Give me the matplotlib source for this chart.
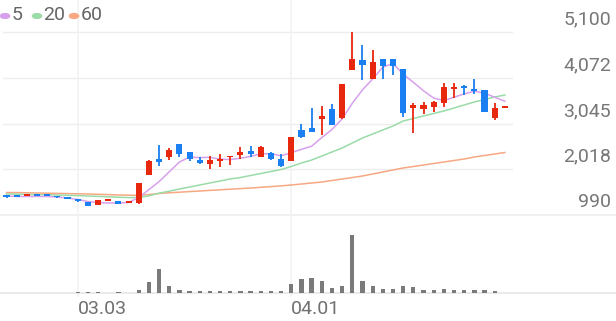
import numpy as np
import matplotlib
matplotlib.use("Agg")
import matplotlib.pyplot as plt
from matplotlib import transforms

# daily candles (prices)
opens = [1440, 1400, 1420, 1440, 1430, 1400, 1365, 1330, 1275, 1215,
         1304, 1311, 1260, 1253, 1888, 2241, 2286, 2585, 2398, 2225,
         2135, 2203, 2286, 2344, 2427, 2299, 2389, 2241, 2210, 2899,
         2951, 3146, 3371, 3162, 4247, 4471, 4045, 4494, 4494, 4269,
         3386, 3371, 3422, 3499, 3820, 3858, 3813, 3797, 3162, 3390]
highs = [1450, 1405, 1440, 1445, 1435, 1405, 1370, 1345, 1280, 1330,
         1345, 1315, 1300, 1710, 2215, 2562, 2502, 2590, 2405, 2293,
         2315, 2360, 2320, 2511, 2540, 2530, 2395, 2360, 2750, 3034,
         3386, 3438, 3476, 3935, 5100, 4808, 4696, 4500, 4500, 4275,
         3499, 3535, 3540, 3948, 3948, 3910, 4045, 3800, 3499, 3400]
lows = [1375, 1385, 1415, 1420, 1410, 1380, 1340, 1290, 1195, 1210,
        1300, 1240, 1255, 1245, 1880, 2091, 2225, 2286, 2203, 2145,
        2016, 2075, 2113, 2241, 2299, 2295, 2235, 2061, 2200, 2713,
        2848, 2787, 3005, 3155, 4240, 4022, 4040, 4045, 4134, 3191,
        2825, 3252, 3310, 3422, 3625, 3685, 3701, 3305, 3124, 3390]
closes = [1385, 1390, 1435, 1425, 1415, 1385, 1345, 1310, 1200, 1327,
          1343, 1244, 1298, 1702, 2210, 2187, 2450, 2360, 2248, 2151,
          2225, 2241, 2315, 2398, 2360, 2524, 2241, 2091, 2742, 2735,
          2861, 3214, 3011, 3926, 4494, 4359, 4433, 4343, 4343, 3281,
          3461, 3461, 3535, 3858, 3858, 3836, 3775, 3310, 3400, 3400]

# moving averages as drawn
ma5 = [1417, 1406, 1406, 1406, 1406, 1394, 1372, 1338, 1293, 1271,
       1260, 1260, 1271, 1380, 1560, 1740, 1960, 2180, 2290, 2280,
       2285, 2245, 2235, 2265, 2305, 2365, 2365, 2320, 2390, 2465,
       2535, 2730, 2910, 3150, 3500, 3800, 4045, 4310, 4395, 4150,
       3970, 3780, 3615, 3560, 3635, 3710, 3770, 3725, 3635, 3545]
ma20 = [1462, 1457, 1453, 1448, 1444, 1439, 1432, 1426, 1417, 1408,
        1399, 1390, 1381, 1383, 1420, 1480, 1525, 1574, 1619, 1664,
        1709, 1754, 1799, 1832, 1877, 1922, 1967, 2012, 2079, 2158,
        2225, 2315, 2405, 2495, 2607, 2719, 2809, 2899, 2989, 3101,
        3157, 3214, 3270, 3326, 3393, 3461, 3528, 3584, 3640, 3685]
ma60 = [1495, 1493, 1489, 1484, 1480, 1475, 1471, 1466, 1462, 1455,
        1448, 1441, 1435, 1432, 1450, 1473, 1489, 1502, 1516, 1529,
        1543, 1556, 1569, 1583, 1596, 1612, 1628, 1644, 1664, 1686,
        1709, 1731, 1765, 1799, 1832, 1866, 1911, 1956, 2001, 2046,
        2079, 2113, 2147, 2180, 2214, 2248, 2293, 2326, 2360, 2394]

volume = [500, 400, 500, 400, 400, 500, 500, 600, 800, 700,
          500, 600, 500, 2700, 10700, 24300, 6700, 3300, 2000, 1700,
          2000, 2000, 1700, 2300, 2000, 2300, 2000, 2000, 9300, 14300,
          14700, 12000, 5000, 6700, 57700, 12000, 6700, 4000, 4000, 6700,
          5700, 3000, 2700, 4000, 2700, 3000, 2700, 3000, 2300, 0]

date_pos = [7, 28]
date_labels = ["03.03", "04.01"]
price_ticks = [990, 2017.5, 3045, 4072.5, 5100]
price_labels = ["990", "2,018", "3,045", "4,072", "5,100"]
ma_names = ["5", "20", "60"]

RED = "#e8280e"
BLUE = "#1a7ff0"
MA_COLORS = ["#d7a0ec", "#9adba8", "#f7a882"]
GRID = "#eeeeee"
TEXT = "#777777"

plt.rcParams["font.family"] = ["Roboto", "DejaVu Sans"]

W, H = 616, 321
fig = plt.figure(figsize=(W / 100, H / 100), dpi=100)

# pixel layout
plot_right = 512
price_top, price_bot = 32, 215
vol_bot = 293

ax = fig.add_axes([0, 1 - price_bot / H, plot_right / W, (price_bot - price_top) / H])
axv = fig.add_axes([0, 1 - vol_bot / H, plot_right / W, (vol_bot - price_bot) / H])

x = np.arange(len(opens))
o = np.array(opens); c = np.array(closes)
hi = np.array(highs); lo = np.array(lows)
up = c >= o
colors = np.where(up, RED, BLUE)

xlim = (-0.64, 49.7)
for a in (ax, axv):
    a.set_xlim(*xlim)
    for s in a.spines.values():
        s.set_visible(False)
    a.set_xticks([]); a.set_yticks([])
    a.patch.set_alpha(0)

ax.set_ylim(990, 5100)

# grid
for t in price_ticks[1:]:
    ax.axhline(t, xmin=3 / plot_right, xmax=1, color=GRID, lw=1, zorder=0, clip_on=False)
ax.axhline(990, xmin=0, xmax=W / plot_right, color=GRID, lw=1.2, zorder=0, clip_on=False)
axv.axhline(0, xmin=0, xmax=W / plot_right, color="#e6e6e6", lw=1.2, zorder=0, clip_on=False)
ph = price_bot - price_top
for d in date_pos:
    ax.axvline(d, ymin=(price_bot - 296) / ph, ymax=price_bot / ph,
               color="#f2f2f2", lw=1.2, zorder=0, clip_on=False)

# moving averages
for vals, col in zip([ma60, ma20, ma5], MA_COLORS[::-1]):
    ax.plot(x, vals, color=col, lw=1.1, zorder=2, clip_on=False)

# candles
ax.vlines(x, lo, hi, colors=colors, lw=1.3, zorder=3, clip_on=False)
body_lo = np.minimum(o, c)
body_h = np.maximum(np.abs(c - o), 40)
ax.bar(x, body_h, bottom=body_lo, width=0.6, color=colors, lw=0, zorder=4, clip_on=False)

# volume
axv.bar(x, volume, width=0.42, color="#7a7a7a", lw=0, zorder=2)
axv.set_ylim(0, 78000)

# price labels (right side, above the grid line)
lbl_tr = transforms.offset_copy(ax.get_yaxis_transform(), fig=fig, x=0, y=9, units="points")
for t, s in zip(price_ticks, price_labels):
    ax.text(611 / plot_right, t, s, transform=lbl_tr, ha="right", va="center",
            fontsize=14, color=TEXT)

# date labels
for d, s in zip(date_pos, date_labels):
    axv.text(d, -16 / (vol_bot - price_bot), s, transform=axv.get_xaxis_transform(),
             ha="left", va="center", fontsize=14, color="#707070")

# MA legend
lx = [5, 37, 74]
for px, col, name in zip(lx, MA_COLORS, ma_names):
    fig.patches.append(matplotlib.patches.Circle((px / W, 1 - 16 / H), radius=4.6 / W,
                       transform=fig.transFigure, color=col, figure=fig))
    fig.text((px + 6.5) / W, 1 - 15.5 / H, name, ha="left", va="center",
             fontsize=14, color="#666666")

fig.savefig("out.png", dpi=100)
